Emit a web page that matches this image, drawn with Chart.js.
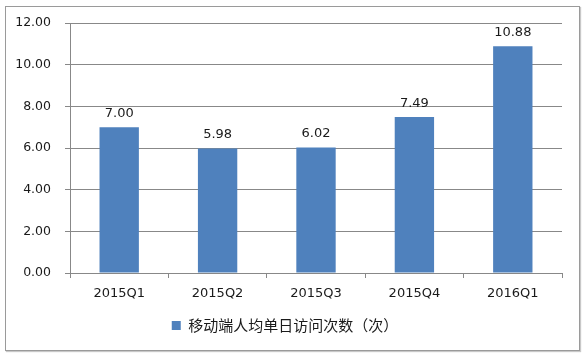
<!DOCTYPE html>
<html><head><meta charset="utf-8">
<script src="https://cdn.jsdelivr.net/npm/chart.js@4/dist/chart.umd.min.js"></script>
<style>
html,body{margin:0;padding:0;background:#fff;}
#wrap{position:relative;width:584px;height:356px;}
#frame{position:absolute;left:5px;top:6px;width:573px;height:343px;border:1px solid #9a9a9a;box-shadow:1px 1px 1px #c8c8c8;pointer-events:none;}
canvas{position:absolute;left:0;top:0;}
</style></head>
<body><div id="wrap"><canvas id="c" width="584" height="356"></canvas><div id="frame"></div></div>
<script>
const categories = ['2015Q1','2015Q2','2015Q3','2015Q4','2016Q1'];
const values = [7.00, 5.98, 6.02, 7.49, 10.88];
const seriesName = '移动端人均单日访问次数（次）';
const yMin = 0, yMax = 12, yStep = 2;

const labelPlugin = {
  id:'barLabels',
  afterDatasetsDraw(chart){
    const ctx = chart.ctx;
    const meta = chart.getDatasetMeta(0);
    ctx.save();
    ctx.font = '13px "DejaVu Sans"';
    ctx.fillStyle = '#1a1a1a';
    ctx.textAlign = 'center';
    ctx.textBaseline = 'bottom';
    meta.data.forEach((bar,i)=>{
      ctx.fillText(values[i].toFixed(2), bar.x, bar.y - 7);
    });
    ctx.restore();
  }
};

new Chart(document.getElementById('c'), {
  type:'bar',
  data:{labels:categories, datasets:[{label:seriesName, data:values, backgroundColor:'#4F81BD', borderWidth:0, categoryPercentage:1, barPercentage:0.4}]},
  options:{
    responsive:false, animation:false,
    layout:{padding:{top:23,right:22,left:8,bottom:13}},
    plugins:{
      tooltip:{enabled:false},
      legend:{position:'bottom', labels:{boxWidth:9, boxHeight:9, padding:10, color:'#1a1a1a', font:{family:'"Noto Sans CJK SC"', size:15}}}
    },
    scales:{
      x:{
        grid:{display:true, drawOnChartArea:false, color:'#888', tickLength:5, offset:true},
        border:{color:'#888'},
        ticks:{color:'#1a1a1a', font:{family:'"DejaVu Sans"', size:13}, padding:8},
        afterFit(s){ s.height = 35; }
      },
      y:{
        min:yMin, max:yMax,
        grid:{color:'#888', tickLength:5},
        border:{color:'#888'},
        ticks:{stepSize:yStep, color:'#1a1a1a', font:{family:'"DejaVu Sans"', size:12.5}, padding:14, callback:v=>Number(v).toFixed(2)},
        afterFit(s){ s.width = 62; }
      }
    }
  },
  plugins:[labelPlugin]
});
</script></body></html>
